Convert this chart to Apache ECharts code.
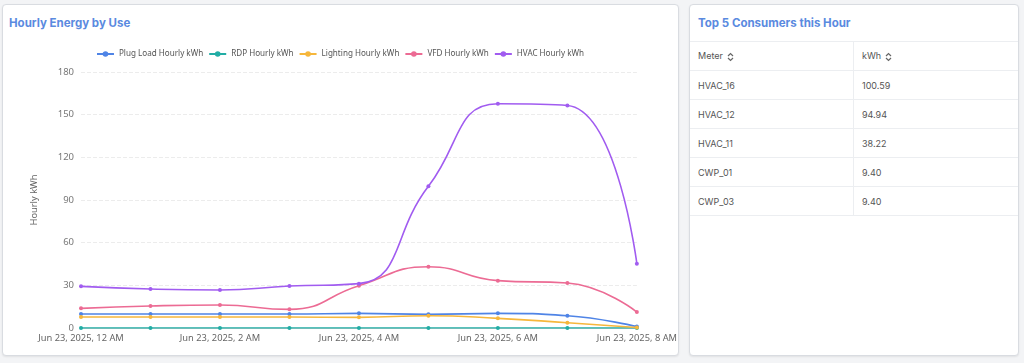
<!DOCTYPE html>
<html>
<head>
<meta charset="utf-8">
<script src="https://cdn.jsdelivr.net/npm/echarts@6/dist/echarts.min.js"></script>
<style>
  html, body { margin:0; padding:0; width:1024px; height:363px; background:#f3f4f6; overflow:hidden; font-family: Inter, "Noto Sans", sans-serif; }
  .panel { position:absolute; background:#fff; border:1px solid #d9dce1; border-radius:4px; box-shadow:0 1px 2px rgba(0,0,0,0.08); box-sizing:border-box; }
  #left { left:2px; top:4px; width:677px; height:352px; }
  #right { left:689px; top:4px; width:330px; height:352px; overflow:hidden; }
  .ptitle { position:absolute; left:6px; top:11px; font-size:11.5px; font-weight:700; color:#5a8ae0; white-space:nowrap; }
  #chart { position:absolute; left:0; top:0; width:680px; height:363px; }
  table { position:absolute; left:0; top:36px; width:100%; border-collapse:collapse; font-size:9px; color:#555; }
  td { height:28px; border-bottom:1px solid #eceef1; padding:0 0 0 8px; vertical-align:middle; }
  tr:first-child td { border-top:1px solid #eceef1; }
  td.c1 { width:155px; border-right:1px solid #eceef1; }
  .sort { display:inline-block; vertical-align:middle; margin-left:4px; }
</style>
</head>
<body>
<div class="panel" id="left"><div class="ptitle">Hourly Energy by Use</div></div>
<div class="panel" id="right"><div class="ptitle" style="left:8px">Top 5 Consumers this Hour</div>
  <table id="tbl"></table>
</div>
<div id="chart"></div>
<script>
const categories = ["Jun 23, 2025, 12 AM","Jun 23, 2025, 1 AM","Jun 23, 2025, 2 AM","Jun 23, 2025, 3 AM","Jun 23, 2025, 4 AM","Jun 23, 2025, 5 AM","Jun 23, 2025, 6 AM","Jun 23, 2025, 7 AM","Jun 23, 2025, 8 AM"];
const plugLoad = [9.8, 9.8, 9.8, 9.8, 10.3, 9.6, 10.3, 8.6, 1.0];
const rdp      = [0, 0, 0, 0, 0, 0, 0, 0, 0];
const lighting = [7.7, 7.7, 7.7, 7.7, 7.5, 8.6, 6.8, 3.7, 0.4];
const vfd      = [13.8, 15.5, 16.2, 13.1, 29.7, 43.1, 33.3, 31.6, 11.2];
const hvac     = [29.3, 27.4, 26.7, 29.5, 31.2, 99.6, 157.7, 156.5, 45.2];
const seriesNames = ["Plug Load Hourly kWh","RDP Hourly kWh","Lighting Hourly kWh","VFD Hourly kWh","HVAC Hourly kWh"];
const yTicks = [0, 30, 60, 90, 120, 150, 180];
const meters = ["HVAC_16","HVAC_12","HVAC_11","CWP_01","CWP_03"];
const meterKwh = ["100.59","94.94","38.22","9.40","9.40"];
const tableHeaders = ["Meter","kWh"];

// table
const sortIcon = '<svg class="sort" width="7" height="10" viewBox="0 0 7 10"><path d="M1 4 L3.5 1.5 L6 4" fill="none" stroke="#666" stroke-width="1.2"/><path d="M1 6 L3.5 8.5 L6 6" fill="none" stroke="#666" stroke-width="1.2"/></svg>';
let html = '<tr><td class="c1">' + tableHeaders[0] + sortIcon + '</td><td>' + tableHeaders[1] + sortIcon + '</td></tr>';
meters.forEach((m, i) => { html += '<tr><td class="c1">' + m + '</td><td>' + meterKwh[i] + '</td></tr>'; });
document.getElementById('tbl').innerHTML = html;

const colors = ["#4f84e6","#22ada5","#f6b73c","#ec6b94","#a15cf0"];
const data = [plugLoad, rdp, lighting, vfd, hvac];
const chart = echarts.init(document.getElementById('chart'));
chart.setOption({
  animation:false,
  color: colors,
  textStyle:{ fontFamily:'"Noto Sans", sans-serif' },
  legend:{ top:45, left:'center', itemWidth:17, itemHeight:7, itemGap:5,
    textStyle:{ fontSize:8.1, color:'#555' }, data: seriesNames },
  grid:{ left:81, right:37, top:72, bottom:35, containLabel:false },
  xAxis:{ type:'category', data:categories, boundaryGap:false,
    axisLine:{ show:true, lineStyle:{ color:'#d0d0d0' } }, axisTick:{ show:false },
    axisLabel:{ interval:1, fontSize:9.3, color:'#666', margin:6, showMaxLabel:true } },
  yAxis:{ type:'value', min:0, max:180, interval:30, name:'Hourly kWh', nameLocation:'middle', nameGap:42,
    nameTextStyle:{ fontSize:9.3, color:'#666' },
    axisLine:{ show:false }, axisTick:{ show:false },
    axisLabel:{ fontSize:9.5, color:'#777', margin:7, formatter: v => yTicks.includes(v) ? String(v) : '' },
    splitLine:{ lineStyle:{ type:'dashed', color:'#ececec' } } },
  series: seriesNames.map((n, i) => ({
    name:n, type:'line', data:data[i], smooth:true, symbol:'circle', symbolSize:4,
    lineStyle:{ width:1.6 }, itemStyle:{ color: colors[i] }, z: 2 + i
  }))
});
</script>
</body>
</html>
